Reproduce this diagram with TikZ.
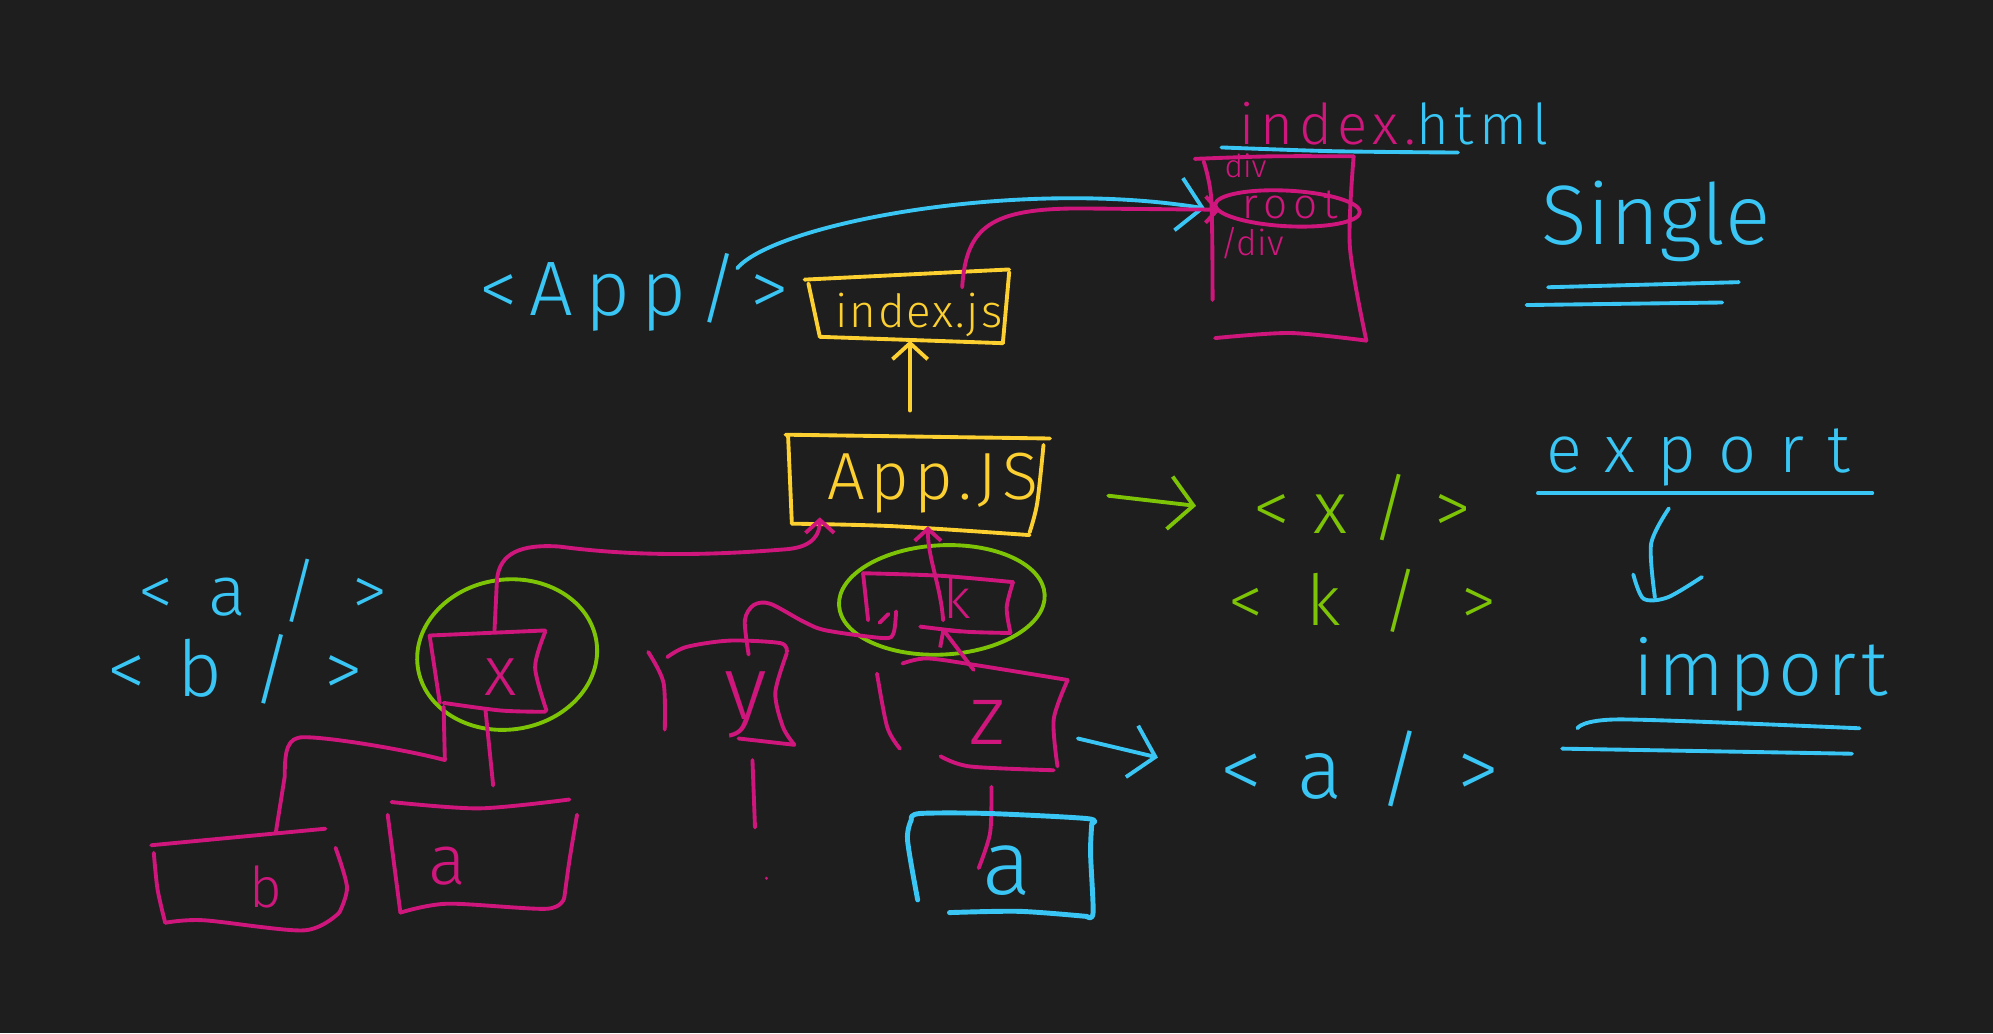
\documentclass[tikz,border=0pt]{standalone}
\usepackage{fontspec}
\setmainfont{Fira Sans Light}
\usetikzlibrary{arrows.meta}

\definecolor{board}{RGB}{30,30,30}
\definecolor{inkblue}{RGB}{58,198,244}
\definecolor{inkpink}{RGB}{206,22,124}
\definecolor{inkyellow}{RGB}{252,208,48}
\definecolor{inkgreen}{RGB}{126,196,6}

\newcommand\fs[1]{\fontsize{#1}{#1}\selectfont}
\newcommand\ls[2]{{\addfontfeatures{LetterSpace=#1}#2}}

\tikzset{
  pen/.style={line width=1.1pt, line cap=round, line join=round},
  bluepen/.style={pen, draw=inkblue},
  pinkpen/.style={pen, draw=inkpink},
  yellowpen/.style={pen, draw=inkyellow},
  greenpen/.style={pen, draw=inkgreen},
  txt/.style={inner sep=0pt, anchor=base},
  barb/.style={-{Straight Barb[length={#1*1mm}, width={2.2*#1*1mm}]}},
  barb/.default=2.2,
}

\begin{document}
\begin{tikzpicture}[x={(0.012710cm,0)}, y={(0,-0.012710cm)}]
\useasboundingbox (0,0) rectangle (1568,813);
\fill[board] (0,0) rectangle (1568,813);

% ---------- index.html page ----------
\node[txt, font=\fs{16}] (htmltitle) at (1097,114)
  {\textcolor{inkpink}{\ls{10}{index.}}\textcolor{inkblue}{\ls{10}{html}}};
\draw[bluepen] plot[smooth] coordinates {(961,116) (1050,119) (1147,120)};

\draw[pinkpen] plot[smooth] coordinates {(940,125) (1000,123) (1065,123)};
\draw[pinkpen] plot[smooth] coordinates {(947,127) (953,157) (954,236)};
\draw[pinkpen] plot[smooth] coordinates {(1065,123) (1062,194) (1075,268)};
\draw[pinkpen] plot[smooth] coordinates {(956,266) (1015,262) (1075,268)};

\node[txt, font=\fs{9}, text=inkpink] (divopen) at (980,140) {div};
\node[txt, font=\fs{12}, text=inkpink] (roottxt) at (1015,172) {\ls{14}{root}};
\node[txt, font=\fs{10}, text=inkpink] (divclose) at (985,201) {/div};
\draw[pinkpen, rotate around={-3:(1013,164)}] (1013,164) ellipse [x radius=57, y radius=14];
\coordinate (rootin) at (948,164);
\coordinate (rootin2) at (960,165);

% ---------- single page label ----------
\node[txt, font=\fs{24}, text=inkblue] (single) at (1303,192) {Single};
\draw[bluepen] (1218,226) -- (1368,222);
\draw[bluepen] (1201,240) -- (1355,238);

% ---------- export / import ----------
\node[txt, font=\fs{19}, text=inkblue] (export) at (1336,372) {\ls{34}{export}};
\draw[bluepen] (1210,388) -- (1473,388);
\draw[bluepen] plot[smooth] coordinates {(1313,400) (1299,428) (1302,470)};
\draw[bluepen] plot[smooth] coordinates {(1285,452) (1293,471) (1312,470) (1339,454)};
\node[txt, font=\fs{22}, text=inkblue] (import) at (1385,547) {\ls{6}{import}};
\draw[bluepen] plot[smooth] coordinates {(1241,573) (1275,566) (1463,573)};
\draw[bluepen] (1229,589) -- (1457,593);

% ---------- <App/> and index.js ----------
\node[txt, font=\fs{22}, text=inkblue] (apptag) at (499,248) {\ls{15}{<App/>}};
\coordinate (appcurve) at (580,211);
\draw[bluepen, barb=2.4] (appcurve) .. controls (610,176) and (800,140) .. (rootin);

\draw[yellowpen] (633,220) -- (794,212);
\draw[yellowpen] (636,223) -- (645,265);
\draw[yellowpen] (645,265) -- (789,270);
\draw[yellowpen] (794,214) -- (789,270);
\node[txt, font=\fs{13}, text=inkyellow] (indexjs) at (723,258) {\ls{4}{index.js}};
\coordinate (indexjstop) at (757,226);
\draw[pinkpen, barb=1.2] (indexjstop) .. controls (760,178) and (780,164) .. (850,164) -- (rootin2);

% ---------- App.JS ----------
\draw[yellowpen] (618,342) -- (826,345);
\draw[yellowpen] (620,342) -- (623,412);
\draw[yellowpen] plot[smooth] coordinates {(623,412) (703,414) (810,421)};
\draw[yellowpen] plot[smooth] coordinates {(821,350) (816,396) (810,419)};
\node[txt, font=\fs{19}, text=inkyellow] (appjs) at (734,393) {\ls{8}{App.JS}};
\coordinate (appjstop) at (716,323);
\coordinate (indexjsbottom) at (716,268);
\draw[yellowpen, barb=1.6] (appjstop) -- (indexjsbottom);

% ---------- component tags ----------
\node[txt, font=\fs{20}, text=inkblue] (taga) at (207,484) {\ls{50}{<a/>}};
\node[txt, font=\fs{22}, text=inkblue] (tagb) at (185,548) {\ls{40}{<b/>}};

\coordinate (garrowstart) at (872,390);
\coordinate (garrowend) at (941,398);
\draw[greenpen, barb=2.4] (garrowstart) -- (garrowend);
\node[txt, font=\fs{21}, text=inkgreen] (tagx) at (1072,420) {\ls{33}{<x/>}};
\node[txt, font=\fs{20}, text=inkgreen] (tagk) at (1072,492) {\ls{60}{<k/>}};

\coordinate (barrowstart) at (848,581);
\coordinate (barrowend) at (911,596);
\draw[bluepen, barb=2.4] (barrowstart) -- (barrowend);
\node[txt, font=\fs{24}, text=inkblue] (tagar) at (1070,628) {\ls{42}{<a/>}};

% ---------- x component ----------
\draw[pinkpen] (338,500) -- (429,496);
\draw[pinkpen] (338,500) -- (346,553);
\draw[pinkpen] plot[smooth] coordinates {(429,497) (421,525) (430,559)};
\draw[pinkpen] plot[smooth] coordinates {(349,553) (394,559) (429,560)};
\node[txt, font=\fs{20}, text=inkpink] (xlbl) at (394,547) {x};
\draw[greenpen, rotate around={8:(399,515)}] (399,515) ellipse [x radius=71, y radius=59];
\coordinate (xtop) at (389,497);
\coordinate (appjsleft) at (645,407);
\draw[pinkpen, barb=1.3] (xtop) -- (391,456) .. controls (393,435) and (410,428) .. (440,430)
   .. controls (500,438) and (560,437) .. (620,432) .. controls (640,430) and (645,420) .. (appjsleft);

% ---------- b component ----------
\coordinate (xbl) at (349,556);
\coordinate (btop) at (217,655);
\draw[pinkpen] (xbl) -- (350,598) .. controls (320,590) and (260,580) .. (239,580)
   .. controls (226,580) and (224,590) .. (224,611) -- (btop);
\draw[pinkpen] (119,665) -- (256,652);
\draw[pinkpen] plot[smooth] coordinates {(121,671) (124,700) (130,726)};
\draw[pinkpen] plot[smooth] coordinates {(130,726) (160,724) (239,732) (267,718)};
\draw[pinkpen] plot[smooth] coordinates {(264,667) (273,698) (267,718)};
\node[txt, font=\fs{16}, text=inkpink] (blbl) at (209,714) {b};

% ---------- a component ----------
\coordinate (xbottom) at (382,559);
\coordinate (atop) at (388,618);
\draw[pinkpen] (xbottom) -- (atop);
\draw[pinkpen] plot[smooth] coordinates {(308,631) (377,636) (448,629)};
\draw[pinkpen] (305,641) -- (315,718);
\draw[pinkpen] plot[smooth] coordinates {(315,718) (352,711) (430,715) (444,706)};
\draw[pinkpen] plot[smooth] coordinates {(454,641) (448,677) (444,706)};
\node[txt, font=\fs{20}, text=inkpink] (albl) at (352,696) {a};

% ---------- k component ----------
\draw[pinkpen] (679,451) -- (683,488);
\draw[pinkpen] plot[smooth] coordinates {(679,451) (740,453) (797,458)};
\draw[pinkpen] plot[smooth] coordinates {(797,458) (792,478) (795,498)};
\draw[pinkpen] plot[smooth] coordinates {(724,493) (760,497) (795,498)};
\draw[pinkpen] (692,490) -- (699,483);
\node[txt, font=\fs{16}, text=inkpink] (klbl) at (753,487) {k};
\draw[greenpen, rotate around={3:(741,472)}] (741,472) ellipse [x radius=81, y radius=43];
\coordinate (kstem) at (742,488);
\coordinate (appjsmid) at (730,414);
\draw[pinkpen, barb=1.2] (kstem) .. controls (740,460) and (730,440) .. (appjsmid);

% ---------- y component ----------
\draw[pinkpen] plot[smooth] coordinates {(510,513) (522,537) (523,574)};
\draw[pinkpen] plot[smooth] coordinates {(525,517) (540,509) (574,504) (614,506) (619,513)};
\draw[pinkpen] plot[smooth] coordinates {(619,514) (610,545) (616,572) (625,586)};
\draw[pinkpen] (581,581) -- (625,586);
\node[txt, font=\fs{26}, text=inkpink] (ylbl) at (587,566) {y};
\coordinate (ytop) at (589,515);
\coordinate (kbl) at (705,481);
\draw[pinkpen] plot[smooth] coordinates {(ytop) (586,488) (593,476) (606,475) (632,489) (650,496) (695,502) (703,498) (kbl)};
\coordinate (ybottom) at (592,598);
\coordinate (yend) at (594,651);
\draw[pinkpen] (ybottom) -- (yend);
\fill[inkpink] (603,691) circle [radius=1.3];

% ---------- z component ----------
\draw[pinkpen] plot[smooth] coordinates {(690,530) (698,572) (708,589)};
\draw[pinkpen] plot[smooth] coordinates {(710,522) (729,518) (766,523) (840,535)};
\draw[pinkpen] plot[smooth] coordinates {(840,535) (829,566) (832,603)};
\draw[pinkpen] plot[smooth] coordinates {(740,595) (763,603) (829,606)};
\node[txt, font=\fs{24}, text=inkpink] (zlbl) at (777,586) {z};
\coordinate (ztop) at (766,527);
\coordinate (kbottom) at (741,494);
\draw[pinkpen, barb=1.2] (ztop) -- (kbottom);
\coordinate (zbottom) at (780,619);
\coordinate (bluea) at (770,683);
\draw[pinkpen] plot[smooth] coordinates {(zbottom) (779,655) (bluea)};

% ---------- blue a component ----------
\draw[bluepen, line width=1.4pt] plot[smooth] coordinates {(717,644) (724,640) (777,640) (855,644) (859,648)};
\draw[bluepen, line width=1.4pt] plot[smooth] coordinates {(859,648) (858,671) (860,718) (855,721)};
\draw[bluepen, line width=1.4pt] plot[smooth] coordinates {(747,718) (802,717) (855,721)};
\draw[bluepen, line width=1.4pt] plot[smooth] coordinates {(717,645) (714,661) (722,708)};
\node[txt, font=\fs{26}, text=inkblue] (bluealbl) at (792,704) {a};

\end{tikzpicture}
\end{document}
